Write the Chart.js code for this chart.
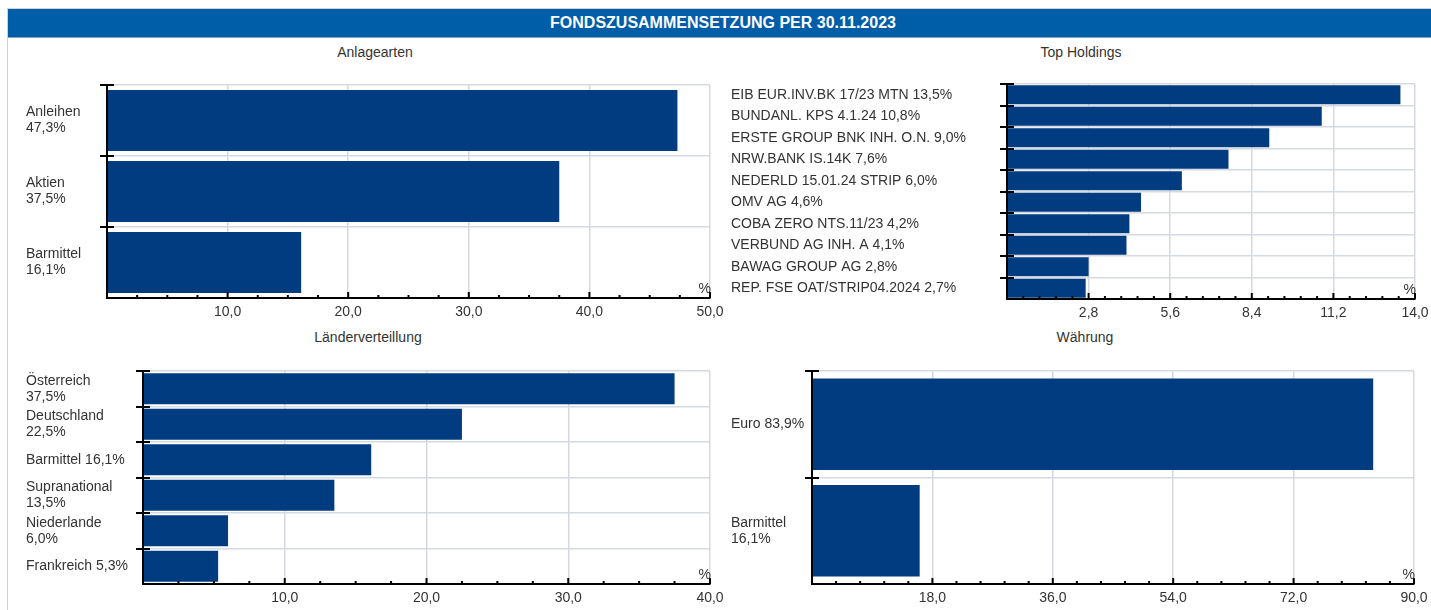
<!DOCTYPE html>
<html lang="de">
<head>
<meta charset="utf-8">
<title>Fondszusammensetzung</title>
<script src="https://cdn.jsdelivr.net/npm/chart.js@4.4.0/dist/chart.umd.min.js"></script>
<style>
  body { margin: 0; background: #fff; font-family: 'Liberation Sans', Arial, sans-serif; }
  #rahmen { position: absolute; left: 7px; top: 8px; width: 1424px; height: 602px; border-left: 1px solid #d2d2d2; border-top: 1px solid #d2d2d2; }
  #kopf { position: absolute; left: 8px; top: 9px; width: 1416px; padding-left: 7px; height: 28px; background: #005da8; border-bottom: 1px solid #8aa4c0;
          color: #fff; font-weight: bold; font-size: 16px; line-height: 28px; text-align: center; }
  .titel { position: absolute; width: 300px; text-align: center; font-size: 14px; line-height: 16px; color: #333; }
  canvas { position: absolute; }
</style>
</head>
<body>
<div id="rahmen"></div>
<div id="kopf">FONDSZUSAMMENSETZUNG PER 30.11.2023</div>

<div class="titel" style="left:225px; top:44px;">Anlagearten</div>
<div class="titel" style="left:931px; top:44px;">Top Holdings</div>
<div class="titel" style="left:218px; top:329px;">Länderverteillung</div>
<div class="titel" style="left:935px; top:329px;">Währung</div>

<canvas id="c1" width="720" height="260" style="left:20px; top:70px;"></canvas>
<canvas id="c2" width="706" height="260" style="left:725px; top:70px;"></canvas>
<canvas id="c3" width="720" height="255" style="left:20px; top:355px;"></canvas>
<canvas id="c4" width="706" height="255" style="left:725px; top:355px;"></canvas>

<script>
// --- Daten ---
const anlageLabels = [['Anleihen', '47,3%'], ['Aktien', '37,5%'], ['Barmittel', '16,1%']];
const anlageWerte = [47.3, 37.5, 16.1];
const anlageTicks = [0, 10, 20, 30, 40, 50];

const holdingLabels = [
    'EIB EUR.INV.BK 17/23 MTN 13,5%',
    'BUNDANL. KPS 4.1.24 10,8%',
    'ERSTE GROUP BNK INH. O.N. 9,0%',
    'NRW.BANK IS.14K 7,6%',
    'NEDERLD 15.01.24 STRIP 6,0%',
    'OMV AG 4,6%',
    'COBA ZERO NTS.11/23 4,2%',
    'VERBUND AG INH. A 4,1%',
    'BAWAG GROUP AG 2,8%',
    'REP. FSE OAT/STRIP04.2024 2,7%'
];
const holdingWerte = [13.5, 10.8, 9.0, 7.6, 6.0, 4.6, 4.2, 4.1, 2.8, 2.7];
const holdingTicks = [0, 2.8, 5.6, 8.4, 11.2, 14.0];

const laenderLabels = [['Österreich', '37,5%'], ['Deutschland', '22,5%'], 'Barmittel 16,1%',
    ['Supranational', '13,5%'], ['Niederlande', '6,0%'], 'Frankreich 5,3%'];
const laenderWerte = [37.5, 22.5, 16.1, 13.5, 6.0, 5.3];
const laenderTicks = [0, 10, 20, 30, 40];

const waehrungLabels = ['Euro 83,9%', ['Barmittel', '16,1%']];
const waehrungWerte = [83.9, 16.1];
const waehrungTicks = [0, 18, 36, 54, 72, 90];

// --- Globale Einstellungen ---
Chart.defaults.font.family = "'Liberation Sans', Arial, sans-serif";
Chart.defaults.font.size = 14;
Chart.defaults.color = '#333';

const gitter = '#d5d9e2';

// Achsenstriche: Querstriche an der Kategorieachse, Haupt-/Zwischenstriche nach innen, Einheit "%"
const achsenPlugin = {
    id: 'achsen',
    afterDraw(chart, args, opts) {
        const { ctx, chartArea: a, scales: { x, y } } = chart;
        ctx.save();
        ctx.strokeStyle = '#000';
        ctx.lineWidth = 2;
        ctx.beginPath();
        const band = (a.bottom - a.top) / y.ticks.length;
        y.ticks.forEach((t, i) => {
            const py = Math.round(y.getPixelForTick(i) - band / 2);
            ctx.moveTo(a.left - 7, py);
            ctx.lineTo(a.left + 7, py);
        });
        const tv = x.ticks.map(t => t.value);
        for (let i = 0; i < tv.length; i++) {
            const px = x.getPixelForValue(tv[i]);
            ctx.moveTo(px, a.bottom);
            ctx.lineTo(px, a.bottom - 6);
            if (i < tv.length - 1) {
                const step = (tv[i + 1] - tv[i]) / opts.minor;
                for (let k = 1; k < opts.minor; k++) {
                    const mx = x.getPixelForValue(tv[i] + k * step);
                    ctx.moveTo(mx, a.bottom);
                    ctx.lineTo(mx, a.bottom - 3);
                }
            }
        }
        ctx.stroke();
        ctx.fillStyle = '#333';
        ctx.font = "14px 'Liberation Sans', Arial, sans-serif";
        ctx.textAlign = 'right';
        ctx.textBaseline = 'bottom';
        ctx.fillText('%', a.right + 1, a.bottom - 2);
        ctx.restore();
    }
};

function balken(id, labels, werte, ticks, opt) {
    return new Chart(document.getElementById(id), {
        type: 'bar',
        data: {
            labels: labels,
            datasets: [{
                data: werte,
                backgroundColor: '#003c7f',
                barPercentage: opt.bar,
                categoryPercentage: 1
            }]
        },
        options: {
            indexAxis: 'y',
            responsive: false,
            animation: false,
            layout: { padding: opt.pad },
            plugins: {
                legend: { display: false },
                tooltip: { enabled: false },
                achsen: { minor: opt.minor }
            },
            scales: {
                x: {
                    min: ticks[0],
                    max: ticks[ticks.length - 1],
                    afterBuildTicks: s => { s.ticks = ticks.map(v => ({ value: v })); },
                    afterFit: s => { s.height = opt.xHoehe; s.paddingLeft = 0; s.paddingRight = 0; },
                    grid: { color: gitter, lineWidth: 1.5, drawTicks: false },
                    border: { color: '#000', width: 2, z: 1 },
                    ticks: {
                        padding: 6,
                        autoSkip: false,
                        maxRotation: 0,
                        callback: v => v === 0 ? '' : v.toFixed(1).replace('.', ',')
                    }
                },
                y: {
                    afterFit: s => { s.width = opt.yBreite; s.paddingTop = 0; s.paddingBottom = 0; },
                    grid: { color: gitter, lineWidth: 1.5, drawTicks: false },
                    border: { color: '#000', width: 2, z: 1 },
                    ticks: { crossAlign: 'far', autoSkip: false, font: { lineHeight: 1.15 } }
                }
            }
        },
        plugins: [achsenPlugin]
    });
}

balken('c1', anlageLabels, anlageWerte, anlageTicks,
    { pad: { left: 6, top: 15, right: 30, bottom: 0 }, yBreite: 81, xHoehe: 32, bar: 0.86, minor: 4 });
balken('c2', holdingLabels, holdingWerte, holdingTicks,
    { pad: { left: 6, top: 14, right: 16, bottom: 0 }, yBreite: 276, xHoehe: 31, bar: 0.88, minor: 5 });
balken('c3', laenderLabels, laenderWerte, laenderTicks,
    { pad: { left: 6, top: 16, right: 30, bottom: 0 }, yBreite: 117, xHoehe: 26, bar: 0.87, minor: 4 });
balken('c4', waehrungLabels, waehrungWerte, waehrungTicks,
    { pad: { left: 6, top: 16, right: 17, bottom: 0 }, yBreite: 81, xHoehe: 26, bar: 0.86, minor: 5 });
</script>
</body>
</html>
